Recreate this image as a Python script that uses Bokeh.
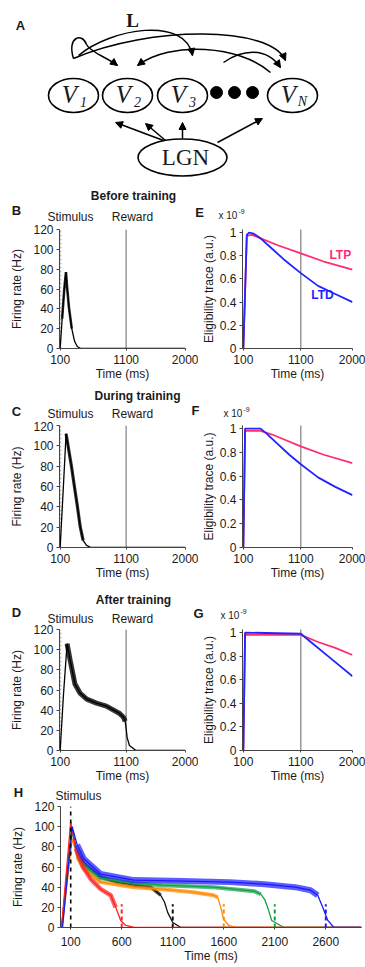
from bokeh.plotting import figure
from bokeh.layouts import column, row
from bokeh.models import Label, Arrow, NormalHead, Range1d, FixedTicker
from bokeh.embed import file_html
from bokeh.resources import INLINE

# ====================== DATA ======================
stim_time = 100
reward_time = 1100
rate_max = 120
elig_top = 1.03

b_time = [100, 130, 160, 188, 205, 232, 276, 320, 360, 410, 2000]
b_rate = [0, 30, 58, 77, 62, 42, 20, 7, 2, 0, 0]
c_time = [100, 145, 190, 230, 271, 316, 362, 405, 448, 500, 570, 2000]
c_rate = [0, 55, 112, 96, 80, 60, 40, 20, 7, 2, 0, 0]
d_time = [100, 150, 205, 250, 324, 400, 503, 650, 800, 995, 1060, 1085, 1100, 1115, 1150, 1250, 2000]
d_rate = [0, 55, 106, 90, 66, 57, 51, 47, 44, 37, 33, 29, 22, 13, 5, 0, 0]

e_ltp_time = [100, 160, 250, 400, 700, 1100, 1500, 2000]
e_ltp = [0, 0.97, 0.98, 0.95, 0.89, 0.82, 0.75, 0.68]
e_ltd_time = [100, 160, 200, 280, 400, 600, 800, 1100, 1400, 1700, 2000]
e_ltd = [0, 0.98, 1.0, 0.99, 0.95, 0.86, 0.77, 0.65, 0.54, 0.47, 0.40]
f_ltp_time = [100, 130, 400, 600, 800, 1100, 1500, 2000]
f_ltp = [0, 0.98, 0.98, 0.95, 0.91, 0.85, 0.78, 0.71]
f_ltd_time = [100, 130, 400, 500, 700, 900, 1100, 1400, 1700, 2000]
f_ltd = [0, 1.0, 1.0, 0.96, 0.87, 0.78, 0.70, 0.59, 0.51, 0.44]
g_ltp_time = [100, 130, 1100, 1400, 1700, 2000]
g_ltp = [0, 0.98, 0.98, 0.92, 0.87, 0.81]
g_ltd_time = [100, 130, 1100, 1300, 1600, 2000]
g_ltd = [0, 1.0, 0.99, 0.91, 0.79, 0.63]

h_red_time = [10, 100, 150, 220, 296, 394, 492, 541, 590, 640, 720, 2950]
h_red_rate = [0, 105, 78, 60, 48, 38, 32, 20, 7, 2, 0, 0]
h_black_time = [10, 110, 160, 230, 394, 550, 718, 884, 982, 1020, 1050, 1100, 1180, 2950]
h_black_rate = [0, 100, 75, 63, 50, 45, 42, 40, 32, 25, 15, 5, 0, 0]
h_orange_time = [15, 115, 163, 230, 394, 718, 1000, 1300, 1500, 1541, 1570, 1600, 1650, 1720, 2950]
h_orange_rate = [0, 88, 70, 58, 45, 40, 38, 35, 32, 30, 20, 8, 2, 0, 0]
h_green_time = [15, 110, 163, 230, 394, 718, 1000, 1500, 1700, 1900, 1963, 2000, 2030, 2070, 2190, 2950]
h_green_rate = [0, 95, 73, 62, 49, 44, 42, 40, 38, 36, 33, 28, 20, 7, 0, 0]
h_blue_time = [20, 115, 163, 230, 394, 718, 1200, 1659, 2000, 2300, 2450, 2521, 2570, 2620, 2680, 2950]
h_blue_rate = [0, 100, 82, 68, 53, 47, 46, 45, 43, 40, 37, 32, 20, 7, 0, 0]
h_reward_times = [600, 1100, 1600, 2100, 2600]
h_reward_mark = 23

rate_ticks = [0, 20, 40, 60, 80, 100, 120]
elig_ticks = [0, 0.2, 0.4, 0.6, 0.8, 1.0]
elig_tick_labels = ["0", "0.2", "0.4", "0.6", "0.8", "1"]
time_ticks = [100, 1100, 2000]
h_time_ticks = [100, 600, 1100, 1600, 2100, 2600]

# ====================== STYLE / LAYOUT ======================
FONT = "Liberation Sans"
SERIF = "Liberation Serif"
AXIS = "#444444"
TXT = "#1a1a1a"
LTP_C = "#ff2d6e"
LTD_C = "#2323ff"
H_COLORS = {"red": "#ff2222", "black": "#111111", "orange": "#ff8a00",
            "green": "#14a046", "blue": "#1a1aff"}

W_TOTAL = 365
LEFT_W, RIGHT_W = 198, 167
L_MBL, L_MBR = 59, 13
R_MBL, R_MBR = 37, 13
H_MBL, H_MBR = 60, 4
L_X = (90, 2000)
R_X = (85, 2000)
R_Y = (0, 1.026)
H_X = (0, 2950)

headers = {"BE": (188, 224), "CF": (383, 421), "DG": (588, 624), "H": (785, 801)}
rows_geom = {
    "BE": dict(top=224, ft=229, fh=120, bottom=383),
    "CF": dict(top=421, ft=425, fh=122, bottom=588),
    "DG": dict(top=624, ft=629, fh=122, bottom=785),
    "H": dict(top=801, ft=806, fh=121, bottom=967),
}


def canvas_fig(y0, y1):
    p = figure(width=W_TOTAL, height=y1 - y0, x_range=Range1d(0, W_TOTAL),
               y_range=Range1d(y1, y0), output_backend="svg", toolbar_location=None,
               min_border_left=0, min_border_right=0, min_border_top=0, min_border_bottom=0,
               x_axis_type=None, y_axis_type=None, frame_align=False)
    p.xgrid.visible = False
    p.ygrid.visible = False
    p.outline_line_color = None
    g = dict(fl=0, ft=y0, fw=W_TOTAL, fh=y1 - y0, xr=(0, W_TOTAL), yr=(y1, y0))
    return p, g


def make_fig(width, row_key, mbl, mbr, xr, yr, page_left):
    rg = rows_geom[row_key]
    mbt = rg["ft"] - rg["top"]
    h = rg["bottom"] - rg["top"]
    mbb = h - mbt - rg["fh"]
    p = figure(width=width, height=h, x_range=Range1d(*xr), y_range=Range1d(*yr),
               output_backend="svg", toolbar_location=None,
               min_border_left=mbl, min_border_right=mbr,
               min_border_top=mbt, min_border_bottom=mbb, frame_align=False)
    p.xgrid.visible = False
    p.ygrid.visible = False
    p.outline_line_color = None
    geom = dict(fl=page_left + mbl, ft=rg["ft"], fw=width - mbl - mbr,
                fh=rg["fh"], xr=xr, yr=yr)
    return p, geom


def style_axes(p, xticks, yticks, xlabel, ylabel, ylab_standoff, yoverrides=None, xstand=4):
    xa, ya = p.xaxis[0], p.yaxis[0]
    xa.ticker = FixedTicker(ticks=xticks)
    ya.ticker = FixedTicker(ticks=yticks)
    for ax in (xa, ya):
        ax.axis_line_color = AXIS
        ax.major_tick_line_color = AXIS
        ax.minor_tick_line_color = None
        ax.major_tick_in = 0
        ax.major_label_text_font = FONT
        ax.major_label_text_font_size = "12px"
        ax.major_label_text_color = TXT
        ax.axis_label_text_font = FONT
        ax.axis_label_text_font_size = "12px"
        ax.axis_label_text_font_style = "normal"
        ax.axis_label_text_color = TXT
    xa.major_tick_out = 2
    xa.major_label_standoff = xstand
    xa.axis_label_standoff = 0
    ya.major_tick_out = 3
    ya.major_label_standoff = 3
    ya.axis_label_standoff = ylab_standoff
    xa.axis_label = xlabel
    ya.axis_label = ylabel
    if yoverrides:
        ya.major_label_overrides = yoverrides


def txt(p, g, px, py, s, size=12, style="normal", color=TXT, align="center", font=FONT):
    x0, x1 = g["xr"]
    y0, y1 = g["yr"]
    x = x0 + (px - g["fl"]) / g["fw"] * (x1 - x0)
    y = y0 + (g["ft"] + g["fh"] - py) / g["fh"] * (y1 - y0)
    p.add_layout(Label(x=x, y=y, text=s, text_font=font, text_font_size=f"{size}px",
                       text_font_style=style, text_color=color, text_align=align,
                       text_baseline="middle"))


# ====================== PANEL A (schematic) ======================
pa, ga = canvas_fig(0, 188)

node_x = [73, 127, 182, 292]
node_y = [95, 95, 95, 95]
node_sub = ["1", "2", "3", "N"]
pa.ellipse(x=node_x, y=node_y, width=50, height=34, fill_color="white",
           line_color="black", line_width=1.6)
pa.ellipse(x=[182], y=[157], width=89, height=37, fill_color="white",
           line_color="black", line_width=1.6)
pa.scatter(x=[216, 234, 252], y=[92, 92, 92], size=12, color="black")
for nx, ny, sub in zip(node_x, node_y, node_sub):
    txt(pa, ga, nx - 4, ny - 1, "V", size=25, style="italic", font=SERIF)
    txt(pa, ga, nx + 10, ny + 6, sub, size=14, style="italic", font=SERIF)
txt(pa, ga, 185, 157, "LGN", size=23, font=SERIF)
txt(pa, ga, 132, 20, "L", size=19, style="bold", font=SERIF)
txt(pa, ga, 20, 25, "A", size=13, style="bold")

lgn_arrows = [(163, 140, 115, 122), (165, 140, 145, 123), (182, 138, 182, 122), (217, 142, 262, 118)]
for xs, ys, xe, ye in lgn_arrows:
    pa.add_layout(Arrow(end=NormalHead(size=7, fill_color="black", line_color="black"),
                        x_start=xs, y_start=ys, x_end=xe, y_end=ye,
                        line_color="black", line_width=1.5))

curves = [
    (73, 58, 66, 36, 82, 32, 86, 44, False),
    (86, 44, 90, 52, 105, 56, 117, 65, True),
    (73, 58, 150, 25, 270, 25, 285, 60, True),
    (78, 55, 110, 28, 185, 15, 192, 55, True),
    (270, 72, 240, 45, 170, 40, 137, 65, True),
    (223, 62, 240, 50, 265, 45, 280, 67, True),
]
for x0, y0, cx0, cy0, cx1, cy1, x1, y1, head in curves:
    pa.bezier(x0=[x0], y0=[y0], cx0=[cx0], cy0=[cy0], cx1=[cx1], cy1=[cy1],
              x1=[x1], y1=[y1], line_color="black", line_width=1.5)
    if head:
        pa.add_layout(Arrow(end=NormalHead(size=7, fill_color="black", line_color="black"),
                            x_start=cx1, y_start=cy1, x_end=x1, y_end=y1, line_alpha=0))

# ====================== HEADERS ======================
hdr = {}
for key, (y0, y1) in headers.items():
    hdr[key] = canvas_fig(y0, y1)

rate_heads = {"BE": ("Before training", "B", 133, 195, 210, 216),
              "CF": ("During training", "C", 137, 395, 411, 413),
              "DG": ("After training", "D", 133, 599, 612, 618)}
for key, (title, letter, tx, ty, ly, sy) in rate_heads.items():
    hp, hg = hdr[key]
    txt(hp, hg, tx, ty, title, size=12, style="bold")
    txt(hp, hg, 16, ly, letter, size=13, style="bold")
    txt(hp, hg, 70, sy, "Stimulus", size=12)
    txt(hp, hg, 132, sy, "Reward", size=12)

elig_heads = {"BE": ("E", 199, 212, 218, 215), "CF": ("F", 195, 410, 223, 413),
              "DG": ("G", 198, 613, 220, 615)}
for key, (letter, lx, ly, sx, sy) in elig_heads.items():
    hp, hg = hdr[key]
    txt(hp, hg, lx, ly, letter, size=13, style="bold")
    txt(hp, hg, sx, sy, "x 10", size=10, align="left")
    txt(hp, hg, sx + 20, sy - 4, "-9", size=7, align="left")

hp, hg = hdr["H"]
txt(hp, hg, 18, 792, "H", size=13, style="bold")
txt(hp, hg, 78, 795, "Stimulus", size=12)

# ====================== RATE PANELS (B, C, D) ======================
def rate_panel(row_key, t, r, band):
    p, g = make_fig(LEFT_W, row_key, L_MBL, L_MBR, L_X, (0, rate_max), 0)
    style_axes(p, time_ticks, rate_ticks, "Time (ms)", "Firing rate (Hz)", 6)
    p.line([stim_time, stim_time], [0, rate_max], line_color="#b4b4b4", line_width=2.2,
           line_dash="2 2")
    p.line([reward_time, reward_time], [0, rate_max], line_color="#8a8a8a", line_width=1.3)
    p.line(t, r, line_color="black", line_width=1.3)
    i0, i1, w = band
    p.line(t[i0:i1], r[i0:i1], line_color="black", line_width=w, line_alpha=0.8)
    return p


pB = rate_panel("BE", b_time, b_rate, (1, 7, 2.6))
pC = rate_panel("CF", c_time, c_rate, (2, 9, 3.2))
pD = rate_panel("DG", d_time, d_rate, (2, 12, 5.0))

# ====================== ELIGIBILITY PANELS (E, F, G) ======================
elig_over = {v: s for v, s in zip(elig_ticks, elig_tick_labels)}


def elig_panel(row_key, tp, vp, td, vd, show_names=False):
    p, g = make_fig(RIGHT_W, row_key, R_MBL, R_MBR, R_X, R_Y, LEFT_W)
    style_axes(p, time_ticks, elig_ticks, "Time (ms)", "Eligibility trace (a.u.)", 1, elig_over)
    p.line([reward_time, reward_time], [0, elig_top], line_color="#8a8a8a", line_width=1.3)
    p.line(tp, vp, line_color=LTP_C, line_width=1.8)
    p.line(td, vd, line_color=LTD_C, line_width=1.8)
    if show_names:
        txt(p, g, 339, 255, "LTP", size=12, style="bold", color=LTP_C)
        txt(p, g, 320, 295, "LTD", size=12, style="bold", color=LTD_C)
    return p


pE = elig_panel("BE", e_ltp_time, e_ltp, e_ltd_time, e_ltd, True)
pF = elig_panel("CF", f_ltp_time, f_ltp, f_ltd_time, f_ltd)
pG = elig_panel("DG", g_ltp_time, g_ltp, g_ltd_time, g_ltd)

# ====================== PANEL H ======================
pH, gH = make_fig(W_TOTAL, "H", H_MBL, H_MBR, H_X, (0, rate_max), 0)
style_axes(pH, h_time_ticks, rate_ticks, "Time (ms)", "Firing rate (Hz)", 6, xstand=7)
traces = [
    (h_black_time, h_black_rate, "black", (2, 9, 3.5)),
    (h_orange_time, h_orange_rate, "orange", (2, 10, 4.0)),
    (h_green_time, h_green_rate, "green", (2, 11, 4.0)),
    (h_red_time, h_red_rate, "red", (2, 8, 4.5)),
    (h_blue_time, h_blue_rate, "blue", (2, 12, 6.0)),
]
for t, r, cname, (i0, i1, w) in traces:
    col = H_COLORS[cname]
    pH.line(t, r, line_color=col, line_width=1.3)
    pH.line(t[i0:i1], r[i0:i1], line_color=col, line_width=w, line_alpha=0.7)
reward_cols = ["red", "black", "orange", "green", "blue"]
for rt, cname in zip(h_reward_times, reward_cols):
    pH.line([rt, rt], [0, h_reward_mark], line_color=H_COLORS[cname], line_width=2,
            line_dash="4 3")
pH.line([stim_time, stim_time], [0, rate_max], line_color="black", line_width=1.6,
        line_dash="4 4")

layout = column(pa, hdr["BE"][0], row(pB, pE), hdr["CF"][0], row(pC, pF),
                hdr["DG"][0], row(pD, pG), hdr["H"][0], pH)
open("out.html", "w").write(file_html(layout, INLINE))
